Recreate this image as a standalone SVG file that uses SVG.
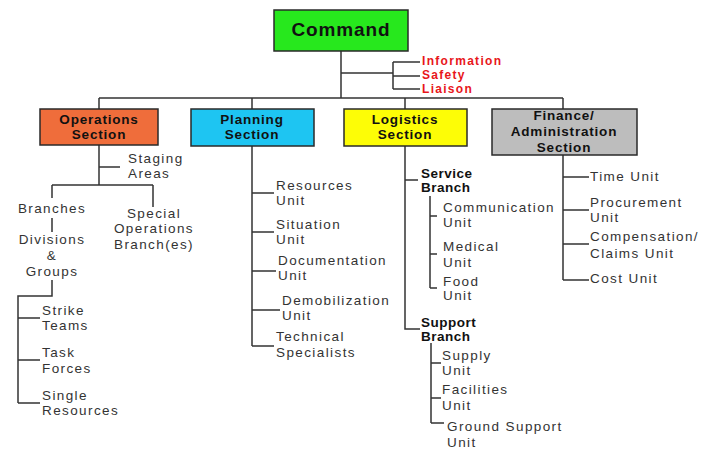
<svg xmlns="http://www.w3.org/2000/svg" width="704" height="449" viewBox="0 0 704 449">
<style>
.box{stroke:#2a2a2a;stroke-width:1.5}
.bt{font-family:"Liberation Sans",Arial,sans-serif;font-weight:bold;font-size:13.5px;letter-spacing:0.8px;fill:#111;text-anchor:middle}
.t{font-family:"Liberation Sans",Arial,sans-serif;font-size:13.5px;letter-spacing:1.4px;fill:#333}
.tb{font-family:"Liberation Sans",Arial,sans-serif;font-weight:bold;font-size:13.5px;letter-spacing:0.5px;fill:#111}
.red{font-family:"Liberation Sans",Arial,sans-serif;font-weight:bold;font-size:12px;letter-spacing:1.3px;fill:#e8161a}
.c{text-anchor:middle}
#connectors path{fill:none;stroke:#333;stroke-width:1.5}
</style>
<rect width="704" height="449" fill="#fff"/>
<g id="connectors">
<path d="M341 51V98M99 98H563M99 98V109M252 98V109M405 98V109M563 98V109"/>
<path d="M341 73H393M393 62V89M393 62H420M393 76H420M393 89H420"/>
<path d="M99 145V185M99 167H120M52 185H153M52 185V198M153 185V207M52 218V232M52 280V296H18V403M18 318H40M18 360H40M18 403H40"/>
<path d="M252 146V346M252 193H274M252 232H274M252 271H276M252 310H280M252 346H274"/>
<path d="M405 146V329H420M405 180H418M430 196V288M430 216H437M430 254H437M430 288H437M431 343V423M431 363H441M431 398H441M431 423H444"/>
<path d="M563 155V280M563 177H589M563 210H589M563 244H589M563 280H589"/>
</g>
<g id="command">
<rect class="box" x="274" y="10" width="134" height="41" fill="#27e81d"/>
<text class="bt" x="341" y="36" style="font-size:19px;letter-spacing:0.9px">Command</text>
</g>
<g id="staff">
<text class="red" x="422" y="65">Information</text>
<text class="red" x="422" y="79">Safety</text>
<text class="red" x="422" y="93">Liaison</text>
</g>
<g id="operations">
<rect class="box" x="40" y="109" width="118" height="36" fill="#ef6d3b"/>
<text class="bt" x="99" y="124">Operations</text>
<text class="bt" x="99" y="139">Section</text>
</g>
<g id="planning">
<rect class="box" x="191" y="109" width="123" height="37" fill="#1ec5f2"/>
<text class="bt" x="252" y="124">Planning</text>
<text class="bt" x="252" y="139">Section</text>
</g>
<g id="logistics">
<rect class="box" x="344" y="109" width="123" height="37" fill="#fdfd06"/>
<text class="bt" x="405" y="124">Logistics</text>
<text class="bt" x="405" y="139">Section</text>
</g>
<g id="finance">
<rect class="box" x="492" y="109" width="145" height="46" fill="#bdbdbd"/>
<text class="bt" x="564" y="120">Finance/</text>
<text class="bt" x="564" y="136">Administration</text>
<text class="bt" x="564" y="152">Section</text>
</g>
<g id="staging"><text class="t" x="128" y="163">Staging</text><text class="t" x="128" y="178">Areas</text></g>
<g id="branches"><text class="t c" x="52" y="213">Branches</text></g>
<g id="special"><text class="t c" x="154" y="218">Special</text><text class="t c" x="154" y="233">Operations</text><text class="t c" x="154" y="249">Branch(es)</text></g>
<g id="divisions"><text class="t c" x="52" y="244">Divisions</text><text class="t c" x="52" y="260">&amp;</text><text class="t c" x="52" y="276">Groups</text></g>
<g id="strike"><text class="t" x="42" y="315">Strike</text><text class="t" x="42" y="330">Teams</text></g>
<g id="task"><text class="t" x="42" y="357">Task</text><text class="t" x="42" y="373">Forces</text></g>
<g id="single"><text class="t" x="42" y="400">Single</text><text class="t" x="42" y="415">Resources</text></g>
<g id="resources"><text class="t" x="276" y="190">Resources</text><text class="t" x="276" y="205">Unit</text></g>
<g id="situation"><text class="t" x="276" y="229">Situation</text><text class="t" x="276" y="244">Unit</text></g>
<g id="documentation"><text class="t" x="278" y="265">Documentation</text><text class="t" x="278" y="280">Unit</text></g>
<g id="demobilization"><text class="t" x="282" y="305">Demobilization</text><text class="t" x="282" y="320">Unit</text></g>
<g id="technical"><text class="t" x="276" y="341">Technical</text><text class="t" x="276" y="357">Specialists</text></g>
<g id="service"><text class="tb" x="421" y="178">Service</text><text class="tb" x="421" y="192">Branch</text></g>
<g id="communication"><text class="t" x="443" y="212">Communication</text><text class="t" x="443" y="227">Unit</text></g>
<g id="medical"><text class="t" x="443" y="251">Medical</text><text class="t" x="443" y="267">Unit</text></g>
<g id="food"><text class="t" x="443" y="286">Food</text><text class="t" x="443" y="300">Unit</text></g>
<g id="support"><text class="tb" x="421" y="327">Support</text><text class="tb" x="421" y="341">Branch</text></g>
<g id="supply"><text class="t" x="442" y="360">Supply</text><text class="t" x="442" y="375">Unit</text></g>
<g id="facilities"><text class="t" x="442" y="394">Facilities</text><text class="t" x="442" y="410">Unit</text></g>
<g id="ground"><text class="t" x="447" y="431">Ground Support</text><text class="t" x="447" y="447">Unit</text></g>
<g id="time"><text class="t" x="590" y="181">Time Unit</text></g>
<g id="procurement"><text class="t" x="590" y="207">Procurement</text><text class="t" x="590" y="222">Unit</text></g>
<g id="compensation"><text class="t" x="590" y="241">Compensation/</text><text class="t" x="590" y="258">Claims Unit</text></g>
<g id="cost"><text class="t" x="590" y="283">Cost Unit</text></g>
</svg>
